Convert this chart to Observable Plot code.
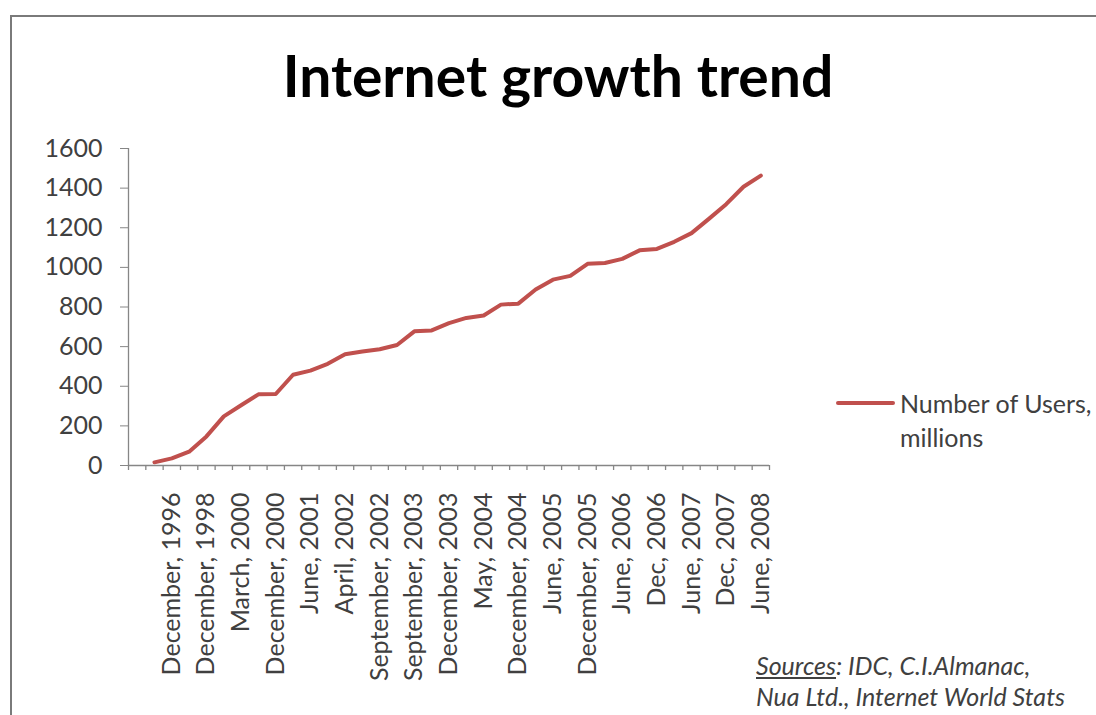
<!DOCTYPE html>
<html>
<head>
<meta charset="utf-8">
<script src="https://cdn.jsdelivr.net/npm/d3@7"></script>
<script src="https://cdn.jsdelivr.net/npm/@observablehq/plot@0.6"></script>
<style>
  html, body { margin: 0; padding: 0; background: #fff; }
  #wrap { position: relative; width: 1096px; height: 715px; overflow: hidden; background: #fff; font-family: Lato, "Open Sans", sans-serif; }
  #frame { position: absolute; left: 10px; top: 15px; width: 1300px; height: 900px; border-left: 2px solid #7a7a7a; border-top: 2px solid #7a7a7a; }
  #title { position: absolute; left: 0; top: 41px; width: 1116px; text-align: center; font-weight: bold; font-size: 57px; line-height: 1.2; color: #000; white-space: nowrap; }
  #chart { position: absolute; left: 0; top: 120px; }
  #chart text { fill: #404040; }
  #legend { position: absolute; left: 836px; top: 386px; width: 260px; font-size: 25px; line-height: 34px; color: #404040; }
  #legend .swatch { position: absolute; left: 0; top: 15px; width: 59px; height: 4px; background: #C0504D; border-radius: 2px; }
  #legend .txt { position: absolute; left: 64px; top: 0; white-space: nowrap; }
  #sources { position: absolute; left: 756px; top: 650px; font-size: 25px; line-height: 31px; font-style: italic; color: #404040; white-space: nowrap; }
  #sources u { text-decoration: underline; }
</style>
</head>
<body>
<div id="wrap">
  <div id="frame"></div>
  <div id="title"></div>
  <div id="chart"></div>
  <div id="legend"><div class="swatch"></div><div class="txt"></div></div>
  <div id="sources"></div>
</div>
<script>
const titleText = "Internet growth trend";
const seriesName = ["Number of Users,", "millions"];
const sourcesLabel = "Sources";
const sourcesText = [": IDC, C.I.Almanac,", "Nua Ltd., Internet World Stats"];

const dates = [
  "December, 1995", "December, 1996", "December, 1997", "December, 1998",
  "December, 1999", "March, 2000", "July, 2000", "December, 2000",
  "March, 2001", "June, 2001", "August, 2001", "April, 2002",
  "July, 2002", "September, 2002", "March, 2003", "September, 2003",
  "October, 2003", "December, 2003", "February, 2004", "May, 2004",
  "October, 2004", "December, 2004", "March, 2005", "June, 2005",
  "September, 2005", "December, 2005", "March, 2006", "June, 2006",
  "Sept, 2006", "Dec, 2006", "Mar, 2007", "June, 2007",
  "Sept, 2007", "Dec, 2007", "Mar, 2008", "June, 2008"
];
const users = [
  16, 36, 70, 147,
  248, 304, 359, 361,
  458, 479, 513, 562,
  575, 587, 608, 677,
  682, 719, 745, 757,
  812, 817, 888, 938,
  957, 1018, 1022, 1043,
  1086, 1093, 1129, 1173,
  1245, 1319, 1407, 1463
];
// every other category carries a visible label (Excel label interval 2)
const labelInterval = 2;
const yTicks = [0, 200, 400, 600, 800, 1000, 1200, 1400, 1600];

// category slot i+1 (slot 0 is an empty leading category)
const rows = dates.map((date, i) => ({date, users: users[i], pos: i + 0.5}));
const xDomain = [-1, dates.length];
const boundaries = d3.range(xDomain[0], xDomain[1] + 1);
const labelRows = rows.filter((d, i) => i % labelInterval === 1);
const labelMap = new Map(labelRows.map(d => [d.pos, d.date]));

document.getElementById("title").textContent = titleText;
document.querySelector("#legend .txt").innerHTML = seriesName.join("<br>");
document.getElementById("sources").innerHTML = `<u>${sourcesLabel}</u>${sourcesText[0]}<br>${sourcesText[1]}`;

const axisGray = "#868686";

const chart = Plot.plot({
  width: 1096,
  height: 595,
  marginLeft: 128,
  marginRight: 327,
  marginTop: 28,
  marginBottom: 250,
  style: {fontFamily: "Lato, 'Open Sans', sans-serif", fontSize: "25px", color: axisGray, background: "transparent", overflow: "visible"},
  x: {
    type: "linear",
    domain: xDomain,
    ticks: labelRows.map(d => d.pos),
    tickFormat: d => labelMap.get(d) ?? "",
    tickSize: 0,
    tickPadding: 27,
    tickRotate: -90,
    label: null,
    line: false
  },
  y: {
    domain: [0, 1600],
    ticks: yTicks,
    tickSize: 8,
    tickPadding: 18,
    tickFormat: d => String(d),
    label: null
  },
  marks: [
    Plot.ruleX([xDomain[0]], {y1: yTicks[0], y2: yTicks[yTicks.length - 1], stroke: axisGray, strokeWidth: 1.3}),
    Plot.ruleY([0], {x1: xDomain[0], x2: xDomain[1], stroke: axisGray, strokeWidth: 1.3}),
    Plot.ruleX(boundaries, {x: d => d, y1: 0, y2: 0, insetBottom: -5, stroke: axisGray, strokeWidth: 1.3}),
    Plot.line(rows, {x: "pos", y: "users", stroke: "#C0504D", strokeWidth: 4, strokeLinejoin: "round", strokeLinecap: "round"})
  ]
});
document.getElementById("chart").appendChild(chart);
</script>
</body>
</html>
